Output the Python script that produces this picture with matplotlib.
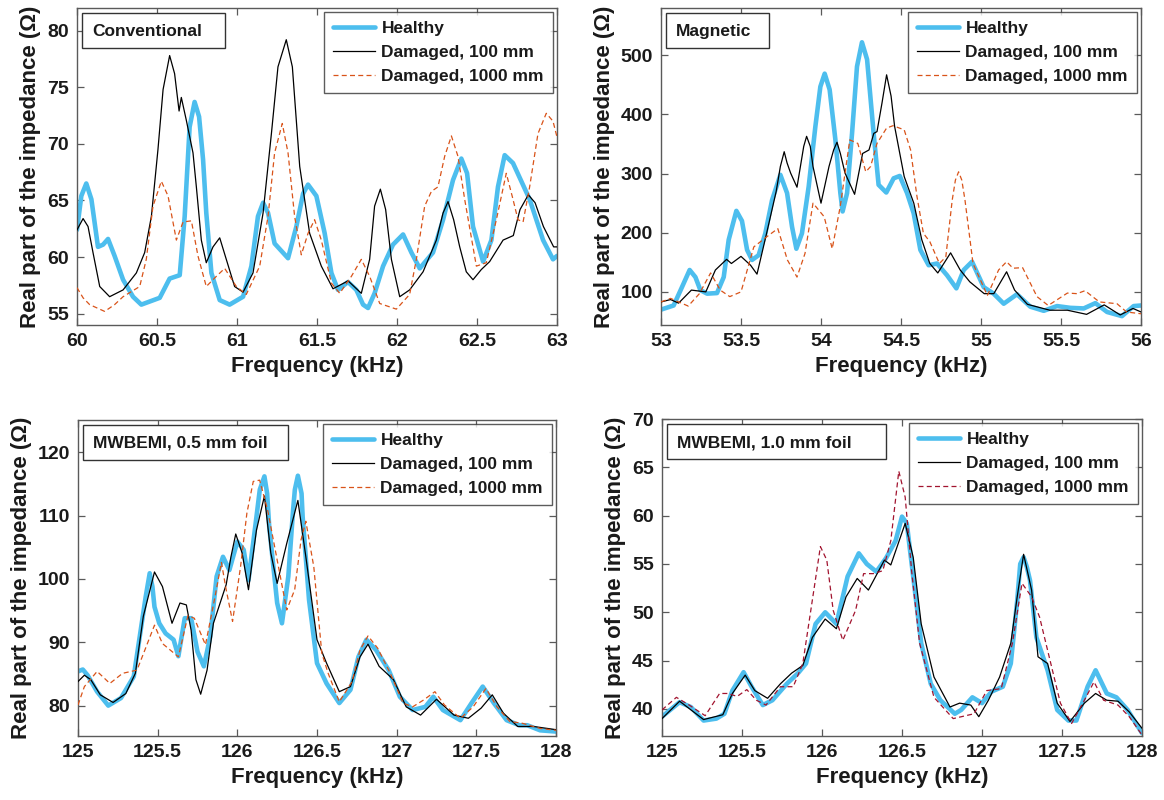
import matplotlib
matplotlib.use("Agg")
import matplotlib.pyplot as plt
from matplotlib.patches import Rectangle

plt.rcParams['font.family'] = ['Liberation Sans', 'DejaVu Sans']
plt.rcParams['font.weight'] = 'bold'

# ---------------- Panel 1: Conventional ----------------
p1_h_f = [60.000, 60.027, 60.058, 60.090, 60.131, 60.163, 60.194, 60.235, 60.288, 60.350, 60.402, 60.517, 60.579, 60.642,
          60.673, 60.704, 60.735, 60.763, 60.788, 60.808, 60.840, 60.892, 60.954, 61.038, 61.090, 61.131, 61.163, 61.194,
          61.235, 61.319, 61.371, 61.413, 61.444, 61.496, 61.548, 61.590, 61.631, 61.694, 61.746, 61.788, 61.819, 61.860,
          61.913, 61.975, 62.038, 62.090, 62.142, 62.225, 62.288, 62.350, 62.402, 62.438, 62.475, 62.538, 62.590, 62.631,
          62.673, 62.725, 62.829, 62.913, 62.975, 63.0]
p1_h_v = [62.4, 65.4, 66.5, 65.1, 60.9, 61.1, 61.6, 60.1, 58.0, 56.5, 55.8, 56.4, 58.1, 58.4,
          63.6, 71.5, 73.7, 72.4, 68.6, 63.9, 58.6, 56.2, 55.8, 56.5, 59.2, 63.6, 64.8, 63.9,
          61.2, 59.9, 62.7, 65.6, 66.4, 65.4, 62.1, 58.6, 57.1, 57.8, 57.1, 55.8, 55.5, 56.8,
          59.2, 61.1, 62.0, 60.4, 59.0, 60.4, 63.3, 66.8, 68.7, 67.4, 62.7, 59.6, 61.5, 66.2,
          69.0, 68.3, 65.1, 61.5, 59.8, 60.1]

p1_d1_f = [60.0, 60.038, 60.069, 60.100, 60.142, 60.204, 60.288, 60.371, 60.423, 60.465, 60.506, 60.538, 60.579, 60.610,
           60.638, 60.652, 60.683, 60.725, 60.746, 60.777, 60.808, 60.850, 60.892, 60.933, 60.985, 61.038, 61.100, 61.163,
           61.215, 61.256, 61.308, 61.346, 61.392, 61.454, 61.527, 61.600, 61.694, 61.777, 61.829, 61.860, 61.896, 61.929,
           61.965, 62.017, 62.079, 62.163, 62.246, 62.288, 62.319, 62.354, 62.392, 62.433, 62.475, 62.527, 62.579, 62.663,
           62.727, 62.769, 62.821, 62.863, 62.915, 62.979, 63.0]
p1_d1_v = [62.4, 63.4, 62.7, 60.4, 57.4, 56.5, 57.1, 58.6, 60.4, 63.6, 69.5, 74.8, 77.8, 76.2,
           72.9, 74.1, 72.1, 69.2, 66.2, 61.5, 59.5, 60.9, 61.7, 59.8, 57.4, 56.9, 58.6, 63.9,
           70.9, 76.8, 79.2, 76.8, 68.0, 62.1, 59.2, 57.2, 57.9, 56.8, 59.8, 64.5, 66.0, 64.2,
           59.8, 56.5, 57.1, 58.7, 61.5, 63.9, 64.9, 63.3, 60.9, 58.7, 58.0, 58.9, 59.6, 61.5,
           61.9, 64.2, 65.5, 64.8, 62.7, 60.9, 60.9]

p1_d2_f = [60.0, 60.038, 60.079, 60.173, 60.235, 60.288, 60.392, 60.433, 60.475, 60.527, 60.569, 60.621, 60.663, 60.715,
           60.756, 60.808, 60.871, 60.923, 60.996, 61.058, 61.142, 61.194, 61.235, 61.283, 61.319, 61.360, 61.402, 61.444,
           61.485, 61.527, 61.590, 61.642, 61.715, 61.777, 61.829, 61.892, 61.996, 62.079, 62.121, 62.173, 62.215, 62.256,
           62.298, 62.340, 62.381, 62.423, 62.496, 62.558, 62.621, 62.683, 62.725, 62.756, 62.788, 62.829, 62.881, 62.933,
           62.975, 63.0]
p1_d2_v = [57.3, 56.4, 55.8, 55.2, 55.8, 56.5, 57.4, 59.8, 64.5, 66.7, 65.4, 61.5, 63.1, 63.2,
           60.1, 57.4, 58.3, 59.0, 57.4, 56.7, 59.2, 63.6, 69.2, 71.8, 69.2, 63.6, 60.2, 62.1,
           63.3, 61.5, 57.7, 56.8, 58.3, 59.8, 58.3, 55.9, 55.4, 56.7, 59.8, 64.5, 65.8, 66.2,
           68.9, 70.7, 68.9, 65.1, 59.2, 59.5, 63.3, 67.4, 65.1, 63.3, 63.1, 66.2, 70.9, 72.7,
           72.0, 70.6]

# ---------------- Panel 2: Magnetic ----------------
p2_h_f = [53.0, 53.079, 53.131, 53.179, 53.215, 53.246, 53.288, 53.350, 53.392, 53.423, 53.471, 53.506, 53.538, 53.569,
          53.610, 53.652, 53.694, 53.746, 53.788, 53.819, 53.846, 53.881, 53.923, 53.965, 53.996, 54.023, 54.054, 54.090,
          54.121, 54.135, 54.163, 54.194, 54.225, 54.256, 54.288, 54.329, 54.360, 54.408, 54.454, 54.492, 54.538, 54.579,
          54.621, 54.673, 54.725, 54.788, 54.846, 54.892, 54.944, 55.017, 55.079, 55.142, 55.225, 55.308, 55.392, 55.475,
          55.558, 55.642, 55.715, 55.788, 55.881, 55.954, 56.0]
p2_h_v = [70, 77, 108, 137, 125, 103, 97, 98, 125, 188, 237, 220, 171, 154,
          162, 199, 255, 298, 267, 210, 173, 199, 278, 380, 447, 469, 442, 357,
          267, 236, 267, 368, 481, 522, 493, 368, 281, 268, 292, 296, 267, 233,
          171, 145, 148, 128, 106, 137, 151, 108, 97, 80, 96, 75, 68, 76,
          73, 72, 81, 66, 59, 76, 77]

p2_d1_f = [53.0, 53.06, 53.11, 53.19, 53.28, 53.34, 53.41, 53.44, 53.50, 53.56, 53.60, 53.66, 53.72, 53.746, 53.77,
           53.788, 53.81, 53.85, 53.892, 53.91, 53.933, 53.95, 54.0, 54.05, 54.079, 54.10, 54.121, 54.15, 54.21, 54.26,
           54.30, 54.33, 54.35, 54.381, 54.41, 54.438, 54.46, 54.52, 54.58, 54.63, 54.68, 54.73, 54.81, 54.87, 54.93,
           55.02, 55.08, 55.16, 55.21, 55.29, 55.43, 55.54, 55.66, 55.77, 55.87, 55.95, 56.0]
p2_d1_v = [83, 87, 81, 103, 100, 137, 155, 148, 160, 145, 130, 199, 270, 312, 337,
           318, 301, 277, 346, 363, 346, 312, 250, 312, 340, 353, 334, 301, 265, 334,
           340, 368, 371, 419, 467, 431, 380, 295, 250, 188, 148, 132, 166, 137, 117,
           97, 97, 134, 103, 79, 69, 69, 62, 78, 61, 72, 66]

p2_d2_f = [53.0, 53.06, 53.17, 53.24, 53.31, 53.37, 53.43, 53.50, 53.58, 53.66, 53.73, 53.79, 53.85, 53.90, 53.95,
           54.02, 54.07, 54.12, 54.18, 54.23, 54.28, 54.31, 54.35, 54.41, 54.45, 54.52, 54.56, 54.60, 54.64, 54.68,
           54.74, 54.78, 54.82, 54.84, 54.86, 54.88, 54.90, 54.95, 55.04, 55.11, 55.16, 55.20, 55.26, 55.35, 55.42,
           55.54, 55.60, 55.65, 55.74, 55.85, 55.91, 56.0]
p2_d2_v = [83, 89, 76, 97, 132, 103, 92, 100, 176, 193, 207, 154, 125, 165, 250,
           227, 173, 244, 357, 351, 303, 312, 351, 377, 381, 374, 340, 261, 199, 185,
           148, 159, 255, 289, 303, 289, 255, 148, 94, 137, 151, 140, 141, 92, 77,
           98, 97, 102, 83, 80, 66, 63]

# ---------------- Panel 3: MWBEMI, 0.5 mm foil ----------------
p3_h_f = [125.0, 125.03, 125.06, 125.12, 125.19, 125.27, 125.35, 125.40, 125.425, 125.45, 125.467, 125.48, 125.51, 125.55,
          125.60, 125.63, 125.67, 125.71, 125.75, 125.79, 125.83, 125.87, 125.91, 125.95, 126.0, 126.04, 126.07, 126.12,
          126.141, 126.17, 126.187, 126.20, 126.25, 126.28, 126.32, 126.35, 126.361, 126.38, 126.403, 126.41, 126.45, 126.50,
          126.56, 126.64, 126.71, 126.76, 126.81, 126.87, 126.95, 127.02, 127.10, 127.18, 127.23, 127.29, 127.40, 127.47,
          127.54, 127.61, 127.69, 127.77, 127.82, 127.90, 128.0]
p3_h_v = [85.4, 85.7, 84.8, 82.2, 80.0, 81.2, 84.6, 93.0, 97.2, 100.9, 98.8, 95.6, 93.0, 91.4,
          90.4, 87.8, 93.8, 93.8, 88.5, 86.2, 90.9, 100.4, 103.5, 101.4, 105.9, 104.6, 99.8, 109.8,
          114.1, 116.2, 113.5, 108.3, 96.2, 93.0, 100.4, 110.9, 114.1, 116.3, 113.5, 109.8, 96.7, 86.7,
          83.5, 80.4, 82.5, 87.7, 90.4, 88.8, 85.6, 81.4, 79.3, 79.8, 81.4, 79.3, 77.7, 80.4,
          83.0, 80.4, 77.7, 76.9, 76.9, 76.1, 75.9]

p3_d1_f = [125.0, 125.04, 125.08, 125.14, 125.22, 125.30, 125.36, 125.41, 125.48, 125.53, 125.59, 125.64, 125.68, 125.71, 125.74,
           125.77, 125.81, 125.85, 125.93, 125.96, 125.99, 126.03, 126.07, 126.12, 126.17, 126.21, 126.25, 126.31, 126.38, 126.43,
           126.50, 126.56, 126.64, 126.71, 126.77, 126.82, 126.89, 126.98, 127.06, 127.15, 127.25, 127.36, 127.45, 127.53, 127.60,
           127.67, 127.76, 127.86, 128.0]
p3_d1_v = [83.8, 84.8, 84.1, 81.7, 80.5, 81.9, 85.1, 94.1, 101.1, 98.8, 93.0, 96.2, 95.9, 91.9, 84.1,
           81.8, 85.6, 93.0, 99.1, 103.5, 107.1, 104.1, 98.3, 107.7, 113.1, 104.1, 99.3, 105.6, 112.4, 103.5,
           90.4, 86.7, 82.2, 83.0, 87.7, 89.7, 86.2, 84.1, 79.8, 78.5, 81.0, 78.5, 78.0, 79.6, 81.7,
           78.8, 76.7, 76.7, 76.2]

p3_d2_f = [125.0, 125.04, 125.12, 125.20, 125.28, 125.37, 125.42, 125.48, 125.53, 125.63, 125.69, 125.73, 125.80, 125.86, 125.90,
           125.93, 125.97, 126.02, 126.06, 126.10, 126.14, 126.19, 126.25, 126.31, 126.36, 126.40, 126.43, 126.48, 126.53, 126.57,
           126.64, 126.72, 126.77, 126.82, 126.88, 126.96, 127.04, 127.10, 127.17, 127.24, 127.30, 127.40, 127.48, 127.56, 127.63,
           127.71, 127.79, 127.90, 128.0]
p3_d2_v = [80.1, 83.0, 85.4, 83.5, 85.1, 85.6, 88.8, 92.7, 89.8, 87.7, 94.2, 93.8, 89.6, 97.2, 102.6,
           98.3, 93.3, 101.9, 110.4, 115.4, 115.6, 110.9, 103.0, 95.1, 98.3, 106.2, 109.1, 101.9, 88.3, 85.1,
           80.6, 83.8, 88.8, 91.0, 89.1, 85.1, 80.4, 79.8, 80.9, 82.2, 80.1, 78.0, 79.8, 82.7, 79.8,
           77.5, 77.2, 76.4, 76.1]

# ---------------- Panel 4: MWBEMI, 1.0 mm foil ----------------
p4_h_f = [125.0, 125.11, 125.18, 125.26, 125.34, 125.39, 125.44, 125.51, 125.56, 125.63, 125.69, 125.78, 125.85, 125.90, 125.96,
          126.02, 126.09, 126.16, 126.23, 126.28, 126.34, 126.40, 126.46, 126.50, 126.53, 126.57, 126.62, 126.68, 126.74, 126.83,
          126.87, 126.94, 127.0, 127.06, 127.13, 127.18, 127.22, 127.239, 127.26, 127.28, 127.30, 127.34, 127.41, 127.47, 127.54,
          127.59, 127.66, 127.71, 127.78, 127.84, 127.91, 128.0]
p4_h_v = [39.2, 40.7, 40.2, 38.8, 39.0, 39.5, 41.9, 43.8, 42.3, 40.4, 40.9, 42.6, 43.7, 44.7, 48.8,
          50.0, 48.8, 53.7, 56.1, 55.0, 54.2, 55.6, 57.4, 59.9, 59.2, 53.7, 46.8, 42.6, 40.9, 39.5,
          39.9, 41.2, 40.6, 41.8, 42.3, 44.7, 51.2, 55.0, 55.7, 54.7, 53.3, 47.4, 44.0, 39.9, 38.8,
          38.8, 42.3, 44.0, 41.6, 41.2, 39.9, 37.5]

p4_d1_f = [125.0, 125.11, 125.26, 125.38, 125.44, 125.52, 125.58, 125.66, 125.74, 125.81, 125.88, 125.94, 126.02, 126.09, 126.15,
           126.22, 126.29, 126.39, 126.43, 126.52, 126.57, 126.62, 126.70, 126.80, 126.86, 126.93, 126.98, 127.04, 127.11, 127.18,
           127.22, 127.26, 127.31, 127.35, 127.41, 127.47, 127.55, 127.64, 127.71, 127.78, 127.85, 127.92, 128.0]
p4_d1_v = [39.0, 40.8, 38.9, 39.4, 41.6, 43.5, 41.9, 41.1, 42.6, 43.7, 44.5, 47.4, 49.3, 48.3, 51.6,
           53.5, 52.3, 55.4, 54.9, 59.2, 55.7, 48.8, 43.3, 40.2, 40.6, 40.4, 39.2, 40.9, 43.3, 46.8,
           51.6, 56.0, 52.3, 45.4, 44.7, 40.6, 38.7, 40.6, 41.6, 40.9, 40.8, 39.7, 38.0]

p4_d2_f = [125.0, 125.09, 125.17, 125.27, 125.36, 125.41, 125.47, 125.53, 125.59, 125.65, 125.74, 125.82, 125.88, 125.93, 125.99,
           126.03, 126.07, 126.13, 126.21, 126.26, 126.32, 126.38, 126.43, 126.48, 126.52, 126.56, 126.61, 126.70, 126.82, 126.95,
           127.03, 127.12, 127.19, 127.25, 127.31, 127.36, 127.43, 127.49, 127.56, 127.64, 127.70, 127.76, 127.85, 127.92, 128.0]
p4_d2_v = [39.9, 41.2, 40.4, 39.3, 41.6, 41.6, 41.3, 42.0, 40.9, 40.4, 42.3, 42.3, 44.7, 50.2, 56.8,
           55.4, 50.2, 47.1, 50.2, 54.0, 54.0, 54.3, 57.4, 64.6, 61.9, 54.3, 46.8, 41.2, 39.0, 39.5,
           41.9, 42.1, 46.8, 53.0, 51.6, 49.5, 44.7, 40.6, 38.5, 40.9, 42.8, 40.9, 40.4, 39.2, 37.3]

titles = ["Conventional", "Magnetic", "MWBEMI, 0.5 mm foil", "MWBEMI, 1.0 mm foil"]
legend_labels = ["Healthy", "Damaged, 100 mm", "Damaged, 1000 mm"]
xlims = [(60, 63), (53, 56), (125, 128), (125, 128)]
ylims = [(54, 82), (44, 580), (75.2, 125.1), (37.2, 70)]
xticks = [[60, 60.5, 61, 61.5, 62, 62.5, 63],
          [53, 53.5, 54, 54.5, 55, 55.5, 56],
          [125, 125.5, 126, 126.5, 127, 127.5, 128],
          [125, 125.5, 126, 126.5, 127, 127.5, 128]]
yticks = [[55, 60, 65, 70, 75, 80],
          [100, 200, 300, 400, 500],
          [80, 90, 100, 110, 120],
          [40, 45, 50, 55, 60, 65, 70]]

panels = [
    ((p1_h_f, p1_h_v), (p1_d1_f, p1_d1_v), (p1_d2_f, p1_d2_v)),
    ((p2_h_f, p2_h_v), (p2_d1_f, p2_d1_v), (p2_d2_f, p2_d2_v)),
    ((p3_h_f, p3_h_v), (p3_d1_f, p3_d1_v), (p3_d2_f, p3_d2_v)),
    ((p4_h_f, p4_h_v), (p4_d1_f, p4_d1_v), (p4_d2_f, p4_d2_v)),
]

BLUE = '#4DBEEE'
RED = ['#D95319', '#D95319', '#D95319', '#A2142F']
FRAME = '#5a5a5a'
TXT = '#1a1a1a'

fig = plt.figure(figsize=(11.64, 8.0), dpi=100)
W, H = 1164.0, 800.0
boxes = [(77, 8, 557, 325), (661, 8, 1141, 325), (78, 420, 556, 736), (662, 419, 1142, 736)]
title_box_w = [143, 103, 205, 219]

for i, (ser, box) in enumerate(zip(panels, boxes)):
    l, t, r, b = box
    ax = fig.add_axes([l / W, 1 - b / H, (r - l) / W, (b - t) / H])
    (hf, hv), (d1f, d1v), (d2f, d2v) = ser
    ax.plot(hf, hv, color=BLUE, lw=3.3, solid_joinstyle='round', solid_capstyle='round',
            label=legend_labels[0], zorder=2)
    ax.plot(d1f, d1v, color='black', lw=0.9, solid_joinstyle='round', label=legend_labels[1], zorder=3)
    ax.plot(d2f, d2v, color=RED[i], lw=0.9, ls=(0, (4, 2.6)), label=legend_labels[2], zorder=3)
    ax.set_xlim(*xlims[i])
    ax.set_ylim(*ylims[i])
    ax.set_xticks(xticks[i])
    ax.set_xticklabels([f"{v:g}" for v in xticks[i]])
    ax.set_yticks(yticks[i])
    ax.tick_params(direction='in', top=True, right=True, length=5, width=0.9, color=FRAME,
                   labelsize=14, labelcolor=TXT, pad=6)
    for lab in ax.get_xticklabels() + ax.get_yticklabels():
        lab.set_fontweight('bold')
    for s in ax.spines.values():
        s.set_color(FRAME)
        s.set_linewidth(1.0)
    ax.set_xlabel("Frequency (kHz)", fontsize=16, fontweight='bold', color=TXT, labelpad=4)
    ax.set_ylabel("Real part of the impedance (Ω)", fontsize=16, fontweight='bold', color=TXT, labelpad=4)
    leg = ax.legend(loc='upper right', fontsize=12.5, frameon=True, fancybox=False,
                    edgecolor='#333333', handlelength=2.4, borderaxespad=0.25,
                    borderpad=0.5, labelspacing=0.5, handletextpad=0.4)
    leg.get_frame().set_linewidth(1.0)
    for tx in leg.get_texts():
        tx.set_fontweight('bold')
        tx.set_color(TXT)
    # annotation box (top-left)
    bx0, by0 = l + 5, t + 5
    bw, bh = title_box_w[i], 35
    rect = Rectangle((bx0 / W, 1 - (by0 + bh) / H), bw / W, bh / H, transform=fig.transFigure,
                     facecolor='white', edgecolor='#333333', linewidth=1.0, zorder=5)
    fig.add_artist(rect)
    fig.text((bx0 + 10) / W, 1 - (by0 + bh / 2 + 1) / H, titles[i], fontsize=12.5, fontweight='bold',
             color=TXT, va='center', ha='left', zorder=6)

fig.savefig("out.png", dpi=100)
